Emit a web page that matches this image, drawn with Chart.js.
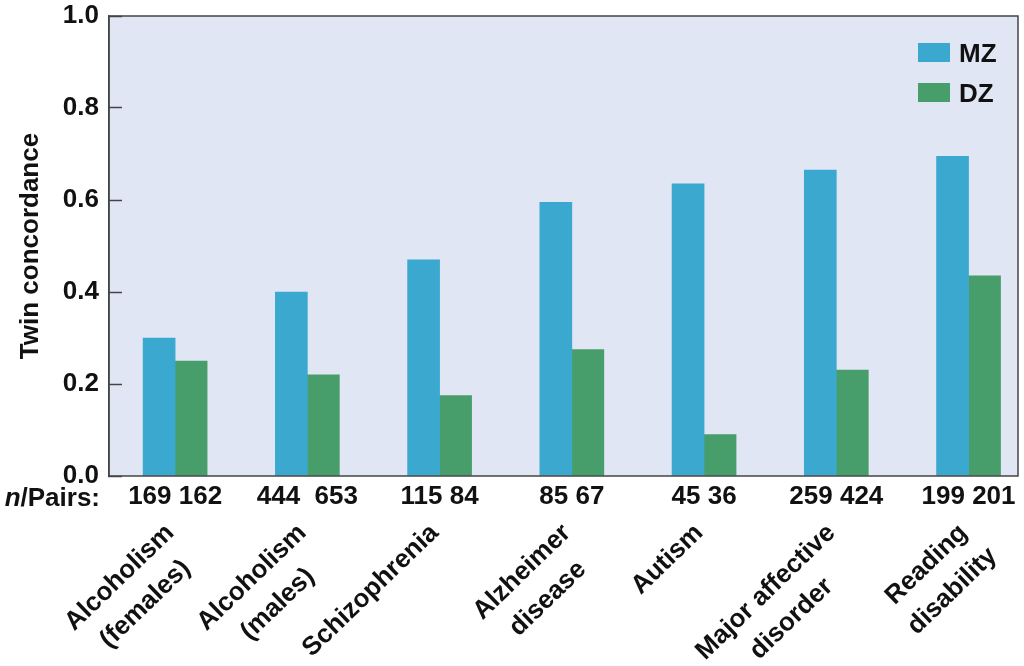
<!DOCTYPE html>
<html>
<head>
<meta charset="utf-8">
<script src="https://cdn.jsdelivr.net/npm/chart.js@4/dist/chart.umd.min.js"></script>
<style>
    html, body { margin: 0; padding: 0; background: #ffffff; }
    #wrap { width: 1024px; height: 666px; }
</style>
</head>
<body>
<div id="wrap"><canvas id="myChart" width="1024" height="666"></canvas></div>
<script>
const categories = [
    ["Alcoholism", "(females)"],
    ["Alcoholism", "(males)"],
    ["Schizophrenia"],
    ["Alzheimer", "disease"],
    ["Autism"],
    ["Major affective", "disorder"],
    ["Reading", "disability"]
];
const pairLabels = ["169 162", "444  653", "115 84", "85 67", "45 36", "259 424", "199 201"];
const mzValues = [0.30, 0.40, 0.47, 0.595, 0.635, 0.665, 0.695];
const dzValues = [0.25, 0.22, 0.175, 0.275, 0.09, 0.23, 0.435];
const yTicks = [0, 0.2, 0.4, 0.6, 0.8, 1.0];

const FONT = "'Liberation Sans', Arial, Helvetica, sans-serif";
const TEXT = "#111111";

// background panel, frame, legend and the rotated category names
const panelPlugin = {
    id: "panel",
    beforeDraw(chart) {
        const {ctx, chartArea: a} = chart;
        ctx.save();
        ctx.fillStyle = "#e1e6f4";
        ctx.fillRect(a.left, a.top, a.width, a.height);
        ctx.restore();
    },
    afterDraw(chart) {
        const {ctx, chartArea: a} = chart;
        const xScale = chart.scales.x;
        ctx.save();
        ctx.strokeStyle = "#444";
        ctx.lineWidth = 1.5;
        ctx.strokeRect(a.left, a.top, a.width, a.height);

        // legend inside the plot
        ctx.font = "bold 26px " + FONT;
        ctx.textAlign = "left";
        ctx.textBaseline = "alphabetic";
        chart.data.datasets.forEach((ds, i) => {
            const y = a.top + 27 + i * 40;
            ctx.fillStyle = ds.backgroundColor;
            ctx.fillRect(a.right - 100, y, 32, 19);
            ctx.fillStyle = TEXT;
            ctx.fillText(ds.label, a.right - 59, y + 19);
        });

        // n/Pairs: row title
        const base = a.bottom + 30;
        ctx.font = "bold 26px " + FONT;
        const rest = "/Pairs:";
        const wRest = ctx.measureText(rest).width;
        ctx.font = "italic bold 26px " + FONT;
        const wN = ctx.measureText("n").width;
        const right = a.left - 9;
        ctx.fillStyle = TEXT;
        ctx.fillText("n", right - wRest - wN, base);
        ctx.font = "bold 26px " + FONT;
        ctx.fillText(rest, right - wRest, base);

        // category names, rotated, lines centred on the first line
        ctx.font = "bold 26px " + FONT;
        ctx.textBaseline = "middle";
        categories.forEach((lines, i) => {
            const px = xScale.getPixelForValue(i) - 5;
            const py = a.bottom + 53;
            ctx.save();
            ctx.translate(px, py);
            ctx.rotate(-44 * Math.PI / 180);
            const w1 = ctx.measureText(lines[0]).width;
            ctx.textAlign = "right";
            ctx.fillText(lines[0], 0, 0);
            ctx.textAlign = "center";
            for (let k = 1; k < lines.length; k++) {
                ctx.fillText(lines[k], -w1 / 2, 37 * k);
            }
            ctx.restore();
        });
        ctx.restore();
    }
};

const ctx = document.getElementById("myChart");

let myChart = new Chart(ctx, {
    type: "bar",
    data: {
        datasets: [{
            label: "MZ",
            data: mzValues.map((v, i) => ({x: i, y: v})),
            backgroundColor: "#3ba8cf",
            borderWidth: 0
        }, {
            label: "DZ",
            data: dzValues.map((v, i) => ({x: i, y: v})),
            backgroundColor: "#479e6b",
            borderWidth: 0
        }]
    },
    options: {
        responsive: false,
        animation: false,
        devicePixelRatio: 1,
        barThickness: 32,
        layout: {
            padding: {left: 0, right: 6, top: 16, bottom: 0}
        },
        plugins: {
            legend: {display: false},
            tooltip: {enabled: false}
        },
        scales: {
            x: {
                type: "linear",
                offset: false,
                min: -0.5,
                max: 6.374,
                afterBuildTicks: (scale) => {
                    scale.ticks = categories.map((c, i) => ({value: i}));
                },
                afterFit: (scale) => {
                    scale.height = 190;
                    scale.paddingLeft = 0;
                    scale.paddingRight = 0;
                },
                grid: {
                    display: false,
                    drawTicks: false
                },
                border: {display: false},
                ticks: {
                    autoSkip: false,
                    maxRotation: 0,
                    padding: 5,
                    color: TEXT,
                    font: {family: FONT, size: 26, weight: "bold"},
                    callback: (value) => pairLabels[value]
                }
            },
            y: {
                min: 0,
                max: 1,
                afterBuildTicks: (scale) => {
                    scale.ticks = yTicks.map(v => ({value: v}));
                },
                afterFit: (scale) => {
                    scale.width = 109;
                    scale.paddingTop = 0;
                    scale.paddingBottom = 0;
                },
                grid: {
                    drawOnChartArea: false,
                    drawTicks: true,
                    tickLength: -13,
                    tickColor: "#444",
                    tickWidth: 1.5
                },
                border: {display: true, color: "#444", width: 1.5},
                ticks: {
                    padding: 23,
                    color: TEXT,
                    font: {family: FONT, size: 26, weight: "bold"},
                    callback: (value) => Number(value).toFixed(1)
                },
                title: {
                    display: true,
                    text: "Twin concordance",
                    color: TEXT,
                    font: {family: FONT, size: 26, weight: "bold"},
                    padding: {top: 15, bottom: 0}
                }
            }
        }
    },
    plugins: [panelPlugin]
});
</script>
</body>
</html>
